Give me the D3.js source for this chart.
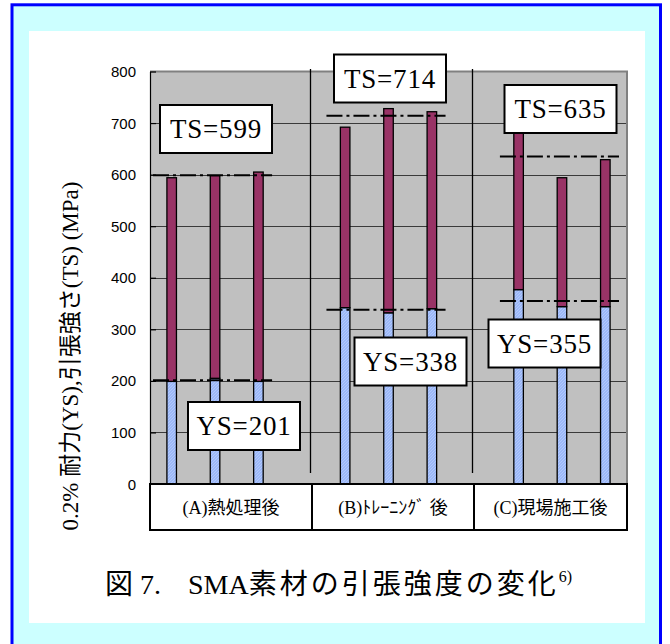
<!DOCTYPE html>
<html>
<head>
<meta charset="utf-8">
<script src="https://cdn.jsdelivr.net/npm/d3@7"></script>
<style>
  body { margin: 0; background: #ffffff; }
  svg text { white-space: pre; }
</style>
</head>
<body>
<svg id="chart" width="670" height="644"></svg>
<script>
// ---- data -------------------------------------------------------------
// three test conditions, three specimens each (blank slots separate groups)
const groups = ["(A)熱処理後", "(B)ﾄﾚｰﾆﾝｸﾞ 後", "(C)現場施工後"];
const specimens = ["A1", "A2", "A3", "gap1", "B1", "B2", "B3", "gap2", "C1", "C2", "C3"];
// 0.2% proof stress (YS) and tensile strength (TS), MPa
const ysValues = [199, 205, 199, null, 342, 332, 340, null, 377, 344, 344];
const tsValues = [594, 598, 605, null, 692, 728, 722, null, 682, 594, 629];
// group means shown in the boxes and as dash-dot lines
const tsMeans = [599, 714, 635];
const ysMeans = [201, 338, 355];
// specimen slots belonging to each group
const groupSlots = [["A1", "A3"], ["B1", "B3"], ["C1", "C3"]];
const yTicks = [0, 100, 200, 300, 400, 500, 600, 700, 800];

// ---- layout -----------------------------------------------------------
const W = 670, H = 644;
const plot = { left: 150, right: 627, top: 71.5, bottom: 484 };
const tableBottom = 530;
const columnSplits = [312, 474];          // column dividers of the label row
const boxW = 112, boxH = 48;
// centres of the mean boxes (ts, ys) for each group
const boxCentres = [
  { ts: [216, 129], ys: [244, 426] },
  { ts: [390, 78.5], ys: [410.5, 361.5] },
  { ts: [560.5, 109], ys: [544.5, 343.5] }
];

const serif = "'Liberation Serif', 'Times New Roman', 'Noto Sans CJK JP', serif";
const sans = "'Liberation Sans', Arial, sans-serif";
const maroon = "#993366";

const svg = d3.select("#chart");

// ---- frame ------------------------------------------------------------
svg.append("rect").attr("x", 0).attr("y", 0).attr("width", W).attr("height", H).attr("fill", "#ffffff");
svg.append("rect")
  .attr("x", 12).attr("y", 4.8).attr("width", 648.5).attr("height", 660)
  .attr("fill", "#ccffff").attr("stroke", "#0000ff").attr("stroke-width", 3);
svg.append("rect")
  .attr("x", 29).attr("y", 31).attr("width", 616).attr("height", 592)
  .attr("fill", "#ffffff");

// hatch for the YS segment
const defs = svg.append("defs");
const pat = defs.append("pattern")
  .attr("id", "ysHatch").attr("patternUnits", "userSpaceOnUse")
  .attr("width", 3).attr("height", 3);
pat.append("rect").attr("width", 3).attr("height", 3).attr("fill", "#9cb8f8");
pat.append("path").attr("d", "M0,3 L3,0 M-1,1 L1,-1 M2,4 L4,2")
  .attr("stroke", "#b7cdfb").attr("stroke-width", 0.8);

// ---- scales -----------------------------------------------------------
const x = d3.scaleBand().domain(specimens).range([plot.left, plot.right]).padding(0);
const y = d3.scaleLinear().domain([0, 800]).range([plot.bottom, plot.top]);
const barW = x.bandwidth() * 0.22;

// ---- plot area --------------------------------------------------------
svg.append("rect")
  .attr("x", plot.left).attr("y", plot.top)
  .attr("width", plot.right - plot.left).attr("height", plot.bottom - plot.top)
  .attr("fill", "#c0c0c0");

// gridlines
svg.append("g").selectAll("line")
  .data(yTicks.filter(t => t > 0 && t < 800))
  .join("line")
  .attr("x1", plot.left).attr("x2", plot.right)
  .attr("y1", d => Math.round(y(d)) + 0.5).attr("y2", d => Math.round(y(d)) + 0.5)
  .attr("stroke", "#3a3a3a").attr("stroke-width", 1);

// top / right border of the plot area
svg.append("path")
  .attr("d", `M${plot.left},${plot.top} H${plot.right} V${plot.bottom}`)
  .attr("fill", "none").attr("stroke", "#808080").attr("stroke-width", 2);

// y axis
const yAxis = d3.axisLeft(y).tickValues(yTicks).tickSize(0).tickPadding(14);
const ga = svg.append("g").attr("transform", `translate(${plot.left},0)`).call(yAxis);
ga.select(".domain").attr("stroke", "#000").attr("stroke-width", 1.2);
ga.selectAll(".tick text")
  .attr("font-family", sans).attr("font-size", 15).attr("fill", "#000")
  .attr("dy", "0.34em");
ga.selectAll(".tick").append("line")
  .attr("x1", 0).attr("x2", 6).attr("stroke", "#000").attr("stroke-width", 1.2);

// ---- bars -------------------------------------------------------------
const rows = specimens.map((s, i) => ({ s, ys: ysValues[i], ts: tsValues[i] }))
  .filter(d => d.ys != null);
const bars = svg.append("g");
bars.selectAll("rect.ys").data(rows).join("rect")
  .attr("class", "ys")
  .attr("x", d => x(d.s) + x.bandwidth() / 2 - barW / 2)
  .attr("width", barW)
  .attr("y", d => y(d.ys))
  .attr("height", d => y(0) - y(d.ys))
  .attr("fill", "url(#ysHatch)").attr("stroke", "#000").attr("stroke-width", 1.3);
bars.selectAll("rect.ts").data(rows).join("rect")
  .attr("class", "ts")
  .attr("x", d => x(d.s) + x.bandwidth() / 2 - barW / 2)
  .attr("width", barW)
  .attr("y", d => y(d.ts))
  .attr("height", d => y(d.ys) - y(d.ts))
  .attr("fill", maroon).attr("stroke", "#000").attr("stroke-width", 1.3);

// ---- group dividers ---------------------------------------------------
svg.append("g").selectAll("line").data(columnSplits).join("line")
  .attr("x1", d => d - 1.5).attr("x2", d => d - 1.5)
  .attr("y1", 69).attr("y2", 473)
  .attr("stroke", "#000").attr("stroke-width", 1.3);

// ---- mean lines -------------------------------------------------------
const meanLines = [];
groups.forEach((g, i) => {
  const x1 = x(groupSlots[i][0]) + 3;
  const x2 = x(groupSlots[i][1]) + x.bandwidth() - 8;
  meanLines.push({ x1, x2, v: tsMeans[i] });
  meanLines.push({ x1, x2, v: ysMeans[i] });
});
svg.append("g").selectAll("line").data(meanLines).join("line")
  .attr("x1", d => d.x1).attr("x2", d => d.x2)
  .attr("y1", d => y(d.v)).attr("y2", d => y(d.v))
  .attr("stroke", "#000").attr("stroke-width", 2)
  .attr("stroke-dasharray", "16,4,3,4");

// ---- mean boxes -------------------------------------------------------
const boxes = [];
groups.forEach((g, i) => {
  boxes.push({ c: boxCentres[i].ts, label: `TS=${tsMeans[i]}` });
  boxes.push({ c: boxCentres[i].ys, label: `YS=${ysMeans[i]}` });
});
const bg = svg.append("g").selectAll("g").data(boxes).join("g")
  .attr("transform", d => `translate(${d.c[0]},${d.c[1]})`);
bg.append("rect")
  .attr("x", -boxW / 2).attr("y", -boxH / 2).attr("width", boxW).attr("height", boxH)
  .attr("fill", "#fff").attr("stroke", "#000").attr("stroke-width", 2);
bg.append("text")
  .attr("text-anchor", "middle").attr("y", 9)
  .attr("font-family", serif).attr("font-size", 27).attr("letter-spacing", 0.8)
  .attr("fill", "#000")
  .text(d => d.label);

// ---- category row -----------------------------------------------------
const edges = [plot.left, ...columnSplits, plot.right];
const cells = groups.map((g, i) => ({ g, x0: edges[i], x1: edges[i + 1] }));
const cg = svg.append("g");
cg.selectAll("rect").data(cells).join("rect")
  .attr("x", d => d.x0).attr("y", plot.bottom)
  .attr("width", d => d.x1 - d.x0).attr("height", tableBottom - plot.bottom)
  .attr("fill", "#fff").attr("stroke", "#000").attr("stroke-width", 2);
cg.selectAll("text").data(cells).join("text")
  .attr("x", d => (d.x0 + d.x1) / 2).attr("y", 514)
  .attr("text-anchor", "middle")
  .attr("font-family", serif).attr("font-size", 18).attr("fill", "#000")
  .text(d => d.g);

// ---- axis title -------------------------------------------------------
svg.append("text")
  .attr("transform", "translate(78,356) rotate(-90)")
  .attr("text-anchor", "middle")
  .attr("font-family", serif).attr("font-size", 23).attr("fill", "#000")
  .text("0.2% 耐力(YS),引張強さ(TS) (MPa)");

// ---- caption ----------------------------------------------------------
const cap = svg.append("text")
  .attr("y", 594)
  .attr("font-family", serif).attr("font-size", 28).attr("fill", "#000");
cap.append("tspan").attr("x", 105).text("図");
cap.append("tspan").attr("x", 140).text("7.");
cap.append("tspan").attr("x", 188).text("SMA");
cap.append("tspan").attr("letter-spacing", 3).text("素材の引張強度の変化");
cap.append("tspan").attr("font-size", 16).attr("dy", -12).text("6)");
</script>
</body>
</html>
